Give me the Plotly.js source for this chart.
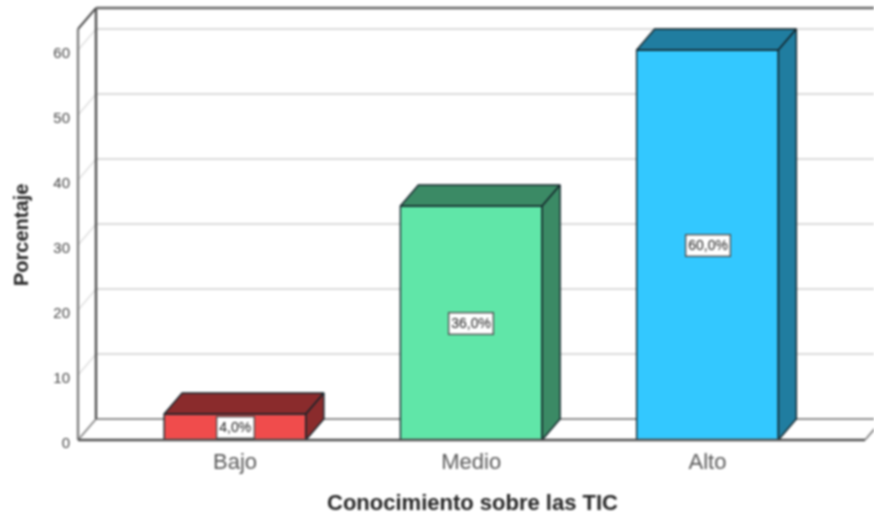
<!DOCTYPE html>
<html>
<head>
<meta charset="utf-8">
<script src="https://cdn.plot.ly/plotly-3.0.1.min.js"></script>
<style>
html,body{margin:0;padding:0;background:#fff;overflow:hidden}
#chart{width:874px;height:515px;filter:blur(0.9px)}
</style>
</head>
<body>
<div id="chart"></div>
<script>
const categories = ["Bajo", "Medio", "Alto"];
const values = [4, 36, 60];
const valueLabels = ["4,0%", "36,0%", "60,0%"];
const frontColors = ["#f04c4c", "#60e6a8", "#33c8ff"];
const depthColors = ["#8a2b2c", "#3b8a65", "#207da0"];
const yTicks = [0, 10, 20, 30, 40, 50, 60];

// Pseudo-3D projection, in data units
const barWidth = 0.6;
const depthX = 18 / 236.25;
const depthY = 21 / 6.5;
const wallTop = 60.0 + (29 - 8) / 6.5;      // top of the front frame
const xLeft = -157 / 236.25;                // front-left corner of the floor
const xRight = 630 / 236.25;                // front-right corner of the floor
const edge = "#14242a";
const fontFamily = "Liberation Sans, Arial, sans-serif";

const traces = [];
traces.push({
  type: "bar",
  x: categories.map((_, i) => i),
  y: values,
  width: barWidth,
  marker: {color: frontColors, line: {color: edge, width: 1.4}},
  hoverinfo: "skip",
  showlegend: false
});
values.forEach((v, i) => {
  const l = i - barWidth / 2, r = i + barWidth / 2;
  traces.push({
    type: "scatter", mode: "lines", fill: "toself", fillcolor: depthColors[i],
    x: [l, l + depthX, r + depthX, r, l],
    y: [v, v + depthY, v + depthY, v, v],
    line: {color: edge, width: 1.4}, hoverinfo: "skip", showlegend: false
  });
  traces.push({
    type: "scatter", mode: "lines", fill: "toself", fillcolor: depthColors[i],
    x: [r, r + depthX, r + depthX, r, r],
    y: [v, v + depthY, depthY, 0, v],
    line: {color: edge, width: 1.4}, hoverinfo: "skip", showlegend: false
  });
});

function seg(x0, y0, x1, y1, color, width, layer) {
  return {type: "line", xref: "x", yref: "y", x0, y0, x1, y1,
          line: {color, width}, layer: layer || "below"};
}
const shapes = [];
yTicks.filter(t => t > 0).forEach(t => {
  shapes.push(seg(xLeft, t, xLeft + depthX, t + depthY, "#dcdcdc", 1.2));
  shapes.push(seg(xLeft + depthX, t + depthY, xRight + depthX + 1, t + depthY, "#cfcfcf", 1.7));
});
shapes.push(seg(xLeft + depthX, depthY, xRight + depthX, depthY, "#8f8f8f", 1.8));
shapes.push(seg(xLeft, 0, xLeft + depthX, depthY, "#858585", 1.8));
shapes.push(seg(xRight, 0, xRight + depthX, depthY, "#858585", 1.8));
shapes.push(seg(xLeft, 0, xLeft, wallTop, "#808080", 2.4));
shapes.push(seg(xLeft + depthX, depthY, xLeft + depthX, wallTop + depthY, "#505050", 2.4));
shapes.push(seg(xLeft, wallTop, xLeft + depthX, wallTop + depthY, "#505050", 2));
shapes.push(seg(xLeft + depthX, wallTop + depthY, xRight + depthX + 1, wallTop + depthY, "#666666", 2.6));
shapes.push(seg(xLeft, 0, xRight, 0, "#505050", 2.4, "above"));

const annotations = values.map((v, i) => ({
  x: i, y: v / 2, xref: "x", yref: "y", text: valueLabels[i], showarrow: false,
  font: {family: fontFamily, size: 14, color: "#222"},
  bgcolor: "#ffffff", bordercolor: "#444444", borderwidth: 1.3, borderpad: 2
}));
annotations.push({
  xref: "paper", yref: "paper", x: -50 / 803, y: 211 / 446, xanchor: "center", yanchor: "middle",
  text: "Porcentaje", textangle: -90, showarrow: false,
  font: {family: fontFamily, size: 20, color: "#262626", weight: "bold"}
});

const layout = {
  width: 874, height: 515,
  margin: {l: 71, r: 0, t: 0, b: 69, pad: 0},
  paper_bgcolor: "#fff", plot_bgcolor: "#fff",
  showlegend: false, bargap: 0, hovermode: false,
  xaxis: {
    type: "linear",
    range: [-164 / 236.25, 639 / 236.25],
    tickmode: "array", tickvals: categories.map((_, i) => i), ticktext: categories,
    showgrid: false, zeroline: false, showline: false, ticks: "",
    tickfont: {family: fontFamily, size: 22, color: "#5a5a5a"},
    title: {text: "Conocimiento sobre las TIC", standoff: 22,
            font: {family: fontFamily, size: 22, color: "#262626", weight: "bold"}}
  },
  yaxis: {
    range: [-6 / 6.5, 440 / 6.5],
    tickmode: "array", tickvals: yTicks, ticktext: yTicks.map(String),
    showgrid: false, zeroline: false, showline: false, ticks: "",
    ticklabelshift: 3,
    tickfont: {family: fontFamily, size: 15, color: "#444"}
  },
  shapes, annotations
};
Plotly.newPlot("chart", traces, layout, {displayModeBar: false, staticPlot: true});
</script>
</body>
</html>
